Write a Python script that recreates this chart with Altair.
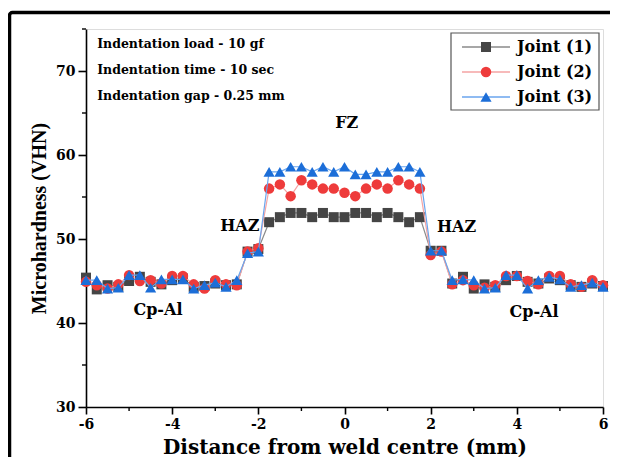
import altair as alt
import pandas as pd

# ---- data ----
x_mm = [-6.0 + 0.25 * i for i in range(49)]

joint1 = [45.4, 44.0, 44.5, 44.3, 45.0, 45.5, 44.9, 44.6, 45.1, 45.3, 44.3, 44.4, 44.7, 44.5, 44.6,
          48.5, 48.8,
          52.0, 52.6, 53.1, 53.1, 52.6, 53.1, 52.6, 52.6, 53.1, 53.1, 52.6, 53.1, 52.6, 52.0, 52.6,
          48.6, 48.6,
          44.7, 45.5, 44.1, 44.6, 44.3, 45.1, 45.6, 44.9, 44.7, 45.3, 45.1, 44.5, 44.3, 44.7, 44.4]
joint2 = [44.9, 44.5, 44.1, 44.6, 45.7, 45.0, 45.1, 44.7, 45.6, 45.6, 44.6, 44.1, 45.1, 44.6, 44.5,
          48.5, 48.9,
          56.0, 56.5, 55.1, 57.0, 56.5, 56.0, 56.0, 55.5, 55.1, 56.0, 56.5, 56.0, 57.0, 56.5, 56.0,
          48.1, 48.5,
          44.6, 45.1, 44.5, 44.2, 44.5, 45.6, 45.6, 45.0, 44.6, 45.6, 45.6, 44.6, 44.3, 45.1, 44.5]
joint3 = [45.1, 45.1, 44.1, 44.2, 45.7, 45.7, 44.2, 45.2, 45.2, 45.2, 44.1, 44.5, 44.8, 44.3, 45.1,
          48.3, 48.5,
          58.0, 58.0, 58.6, 58.6, 58.0, 58.6, 58.0, 58.6, 57.7, 57.7, 58.0, 58.0, 58.6, 58.6, 58.0,
          48.6, 48.6,
          45.1, 45.2, 45.1, 44.1, 44.2, 45.7, 45.7, 44.1, 45.1, 45.5, 45.2, 44.3, 44.5, 44.8, 44.3]

series_names = ["Joint (1)", "Joint (2)", "Joint (3)"]
marker_colors = ["#454545", "#ee3b3b", "#1c6ed8"]
line_colors = ["#8a8a8a", "#f5a3a3", "#6aa5ee"]
shapes = ["square", "circle", "triangle-up"]
sizes = [100, 110, 125]

x_major = [-6, -4, -2, 0, 2, 4, 6]
x_minor = [-5, -3, -1, 1, 3, 5]
y_major = [30, 40, 50, 60, 70]
y_minor = [35, 45, 55, 65, 75]

info_lines = ["Indentation load - 10 gf", "Indentation time - 10 sec", "Indentation gap - 0.25 mm"]
info_x = [-5.74, -5.74, -5.74]
info_y = [73.2, 70.1, 67.0]

zone_labels = ["FZ", "HAZ", "HAZ", "Cp-Al", "Cp-Al"]
zone_x = [0.05, -2.43, 2.6, -4.33, 4.4]
zone_y = [63.8, 51.6, 51.4, 41.5, 41.3]

W, H = 517, 378
FONT = "DejaVu Serif"
FONT_V = "Liberation Serif"

xs = alt.Scale(domain=[-6, 6], nice=False, zero=False)
ys = alt.Scale(domain=[30, 75], nice=False, zero=False)

layers = []

# outer figure frame (left and top edges visible, rest runs off the page)
frame_df = pd.DataFrame({"a": [0]})
layers.append(alt.Chart(frame_df).mark_rect(
    fillOpacity=0, stroke="black", strokeWidth=3.5, cornerRadius=3
).encode(x=alt.value(-76.5), x2=alt.value(560), y=alt.value(-16.5), y2=alt.value(480)))

# axes carrier (invisible)
base_df = pd.DataFrame({"x": [-6, 6], "y": [30, 75]})
axes_layer = alt.Chart(base_df).mark_point(opacity=0).encode(
    x=alt.X("x:Q", scale=xs, axis=alt.Axis(
        values=x_major, title="Distance from weld centre (mm)", labelExpr="'' + datum.value",
        labelFont=FONT, labelFontWeight="bold", labelFontSize=14, labelColor="black",
        titleFont=FONT, titleFontWeight="bold", titleFontSize=20, titleColor="black",
        titleBaseline="alphabetic", titleY=46,
        domainColor="black", domainWidth=1.6, tickColor="black", tickWidth=1.6, tickSize=7,
        labelPadding=3, grid=False, labelFlush=False)),
    y=alt.Y("y:Q", scale=ys, axis=alt.Axis(
        values=y_major, title="Microhardness (VHN)", labelExpr="'' + datum.value",
        labelFont=FONT, labelFontWeight="bold", labelFontSize=14, labelColor="black",
        titleFont=FONT_V, titleFontWeight="bold", titleFontSize=20, titleColor="black",
        domainColor="black", domainWidth=1.6, tickColor="black", tickWidth=1.6, tickSize=8,
        labelPadding=3, titlePadding=6, grid=False, labelFlush=False)),
)
layers.append(axes_layer)

# minor ticks
xmin_df = pd.DataFrame({"x": x_minor})
layers.append(alt.Chart(xmin_df).mark_rule(color="black", strokeWidth=1.4).encode(
    x=alt.X("x:Q", scale=xs), y=alt.value(H), y2=alt.value(H + 4)))
ymin_df = pd.DataFrame({"y": y_minor})
layers.append(alt.Chart(ymin_df).mark_rule(color="black", strokeWidth=1.4).encode(
    y=alt.Y("y:Q", scale=ys), x=alt.value(-4), x2=alt.value(0)))

# series
for name, vals, mc, lc, sh, sz in zip(series_names, [joint1, joint2, joint3],
                                      marker_colors, line_colors, shapes, sizes):
    df = pd.DataFrame({"x": x_mm, "y": vals})
    enc = dict(x=alt.X("x:Q", scale=xs), y=alt.Y("y:Q", scale=ys))
    line = alt.Chart(df).mark_line(color=lc, strokeWidth=1.2).encode(**enc)
    pts = alt.Chart(df).mark_point(filled=True, shape=sh, size=sz, color=mc, opacity=1).encode(**enc)
    layers += [line, pts]

# annotations
info_df = pd.DataFrame({"t": info_lines, "x": info_x, "y": info_y})
layers.append(alt.Chart(info_df).mark_text(
    font=FONT, fontWeight="bold", fontSize=12.5, align="left", baseline="middle", color="black"
).encode(x=alt.X("x:Q", scale=xs), y=alt.Y("y:Q", scale=ys), text="t:N"))

zone_df = pd.DataFrame({"t": zone_labels, "x": zone_x, "y": zone_y})
layers.append(alt.Chart(zone_df).mark_text(
    font=FONT, fontWeight="bold", fontSize=16, align="center", baseline="middle", color="black"
).encode(x=alt.X("x:Q", scale=xs), y=alt.Y("y:Q", scale=ys), text="t:N"))

# legend (manual), pixel positions within plot area
leg_df = pd.DataFrame({"name": series_names, "row": [0, 1, 2]})
leg_df["py"] = 18 + 25 * leg_df["row"]
leg_box = alt.Chart(pd.DataFrame({"a": [0]})).mark_rect(
    fill="white", stroke="#555555", strokeWidth=1.2
).encode(x=alt.value(365), x2=alt.value(513), y=alt.value(4), y2=alt.value(81))
layers.append(leg_box)
for i, (name, mc, lc, sh, sz) in enumerate(zip(series_names, marker_colors, line_colors, shapes, sizes)):
    row = leg_df.iloc[[i]]
    layers.append(alt.Chart(row).mark_rule(color=lc, strokeWidth=1.5).encode(
        x=alt.value(376), x2=alt.value(424), y=alt.Y("py:Q", scale=None)))
    layers.append(alt.Chart(row).mark_point(filled=True, shape=sh, size=sz, color=mc, opacity=1).encode(
        x=alt.value(400), y=alt.Y("py:Q", scale=None)))
    layers.append(alt.Chart(row).mark_text(
        font=FONT, fontWeight="bold", fontSize=16, align="left", baseline="middle", color="black"
    ).encode(x=alt.value(431), y=alt.Y("py:Q", scale=None), text="name:N"))

chart = alt.layer(*layers).properties(
    width=W, height=H,
    autosize=alt.AutoSizeParams(type="none"),
    padding={"left": 78, "top": 21, "right": 7, "bottom": 50},
).configure_view(stroke=None).configure(background="white")

chart.save("out.html", embed_options={"renderer": "svg", "actions": False})
